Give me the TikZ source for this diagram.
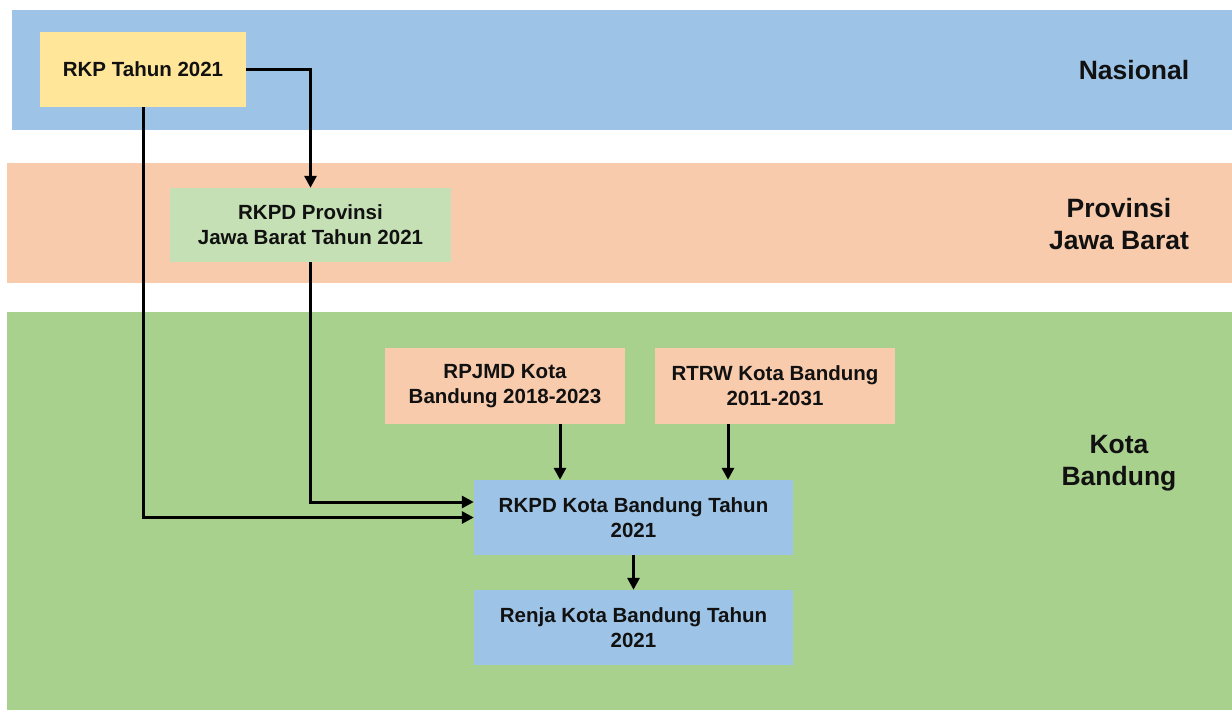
\documentclass[tikz,border=0pt]{standalone}
\usepackage{fontspec}
\setmainfont{Liberation Sans}
\usetikzlibrary{arrows.meta}
\definecolor{bandblue}{HTML}{9DC3E6}
\definecolor{bandorange}{HTML}{F8CBAD}
\definecolor{bandgreen}{HTML}{A9D18E}
\definecolor{boxyellow}{HTML}{FFE699}
\definecolor{boxgreen}{HTML}{C5E0B4}
\definecolor{txt}{HTML}{111111}
\tikzset{
  box/.style={rectangle, inner sep=0pt, align=center, text=txt,
    font=\fontsize{20.5}{25}\selectfont\bfseries},
  bandlabel/.style={align=center, text=txt, inner sep=0pt,
    font=\fontsize{26.5}{32}\selectfont\bfseries},
  conn/.style={line width=3pt, draw=black, -{Triangle[length=12pt,width=12pt]}},
}
\begin{document}
\begin{tikzpicture}[x=1pt,y=-1pt]
\useasboundingbox (0,0) rectangle (1232,712);
\fill[white] (0,0) rectangle (1232,712);
% bands
\fill[bandblue] (12,10) rectangle (1232,130);
\fill[bandorange] (7,163) rectangle (1232,283);
\fill[bandgreen] (7,312) rectangle (1232,710);
% band labels
\node[bandlabel] (lnas) at (1134,70) {Nasional};
\node[bandlabel] (lprov) at (1119,224) {Provinsi\\Jawa Barat};
\node[bandlabel] (lkota) at (1119,463) {Kota\\Bandung};
% boxes
\node[box, fill=boxyellow, minimum width=206pt, minimum height=75pt] (rkp) at (143,69.5) {RKP Tahun 2021};
\node[box, fill=boxgreen, minimum width=281pt, minimum height=74pt] (prov) at (310.5,225) {RKPD Provinsi\\Jawa Barat Tahun 2021};
\node[box, fill=bandorange, minimum width=240pt, minimum height=76pt] (rpjmd) at (505,386) {RPJMD Kota\\Bandung 2018-2023};
\node[box, fill=bandorange, minimum width=240pt, minimum height=76pt] (rtrw) at (775,386) {RTRW Kota Bandung\\2011-2031};
\node[box, fill=bandblue, minimum width=319pt, minimum height=75pt] (kota) at (633.5,517.5) {RKPD Kota Bandung Tahun\\2021};
\node[box, fill=bandblue, minimum width=319pt, minimum height=75pt] (renja) at (633.5,627.5) {Renja Kota Bandung Tahun\\2021};
% connectors
\draw[conn] (rkp.east) -| (prov.north);
\draw[conn] (rkp.south) |- (kota.west);
\draw[conn] (prov.south) |- ([yshift=15.5pt]kota.west);
\draw[conn] ([xshift=55pt]rpjmd.south) -- ([xshift=55pt]rpjmd.south |- kota.north);
\draw[conn] ([xshift=-47pt]rtrw.south) -- ([xshift=-47pt]rtrw.south |- kota.north);
\draw[conn] (kota.south) -- (renja.north);
\end{tikzpicture}
\end{document}
